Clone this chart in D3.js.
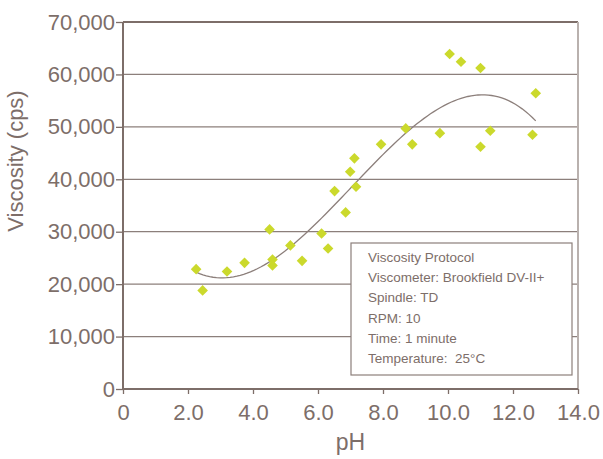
<!DOCTYPE html>
<html>
<head>
<meta charset="utf-8">
<script src="https://cdn.jsdelivr.net/npm/d3@7"></script>
<style>
  body { margin: 0; background: #fff; }
  text { font-family: "Liberation Sans", Arial, sans-serif; fill: #7d6e69; white-space: pre; }
</style>
</head>
<body id="body">
<script>
// pH readings and measured viscosity (cps)
const phValues = [2.25, 2.45, 3.2, 3.74, 4.51, 4.6, 4.6, 5.15, 5.51, 6.11, 6.31, 6.51, 6.85, 6.99, 7.12, 7.17,
  7.94, 8.7, 8.9, 9.75, 10.05, 10.4, 11.0, 11.0, 11.3, 12.6, 12.7];
const viscosity = [22860, 18800, 22420, 24060, 30440, 24700, 23570, 27390, 24450, 29670, 26810, 37750, 33680, 41430, 43990, 38570,
  46660, 49700, 46660, 48800, 63900, 62420, 61220, 46200, 49250, 48500, 56400];

const xTicks = [0, 2, 4, 6, 8, 10, 12, 14];
const yTicks = [0, 10000, 20000, 30000, 40000, 50000, 60000, 70000];

const protocolLines = [
  "Viscosity Protocol",
  "Viscometer: Brookfield DV-II+",
  "Spindle: TD",
  "RPM: 10",
  "Time: 1 minute",
  "Temperature:  25°C"
];

const width = 603, height = 459;
const margin = { top: 22, right: 25, bottom: 70, left: 123 };
const ink = "#7d6e69";

const svg = d3.select("body").append("svg")
  .attr("width", width)
  .attr("height", height);

const x = d3.scaleLinear().domain([0, 14]).range([margin.left, width - margin.right]);
const y = d3.scaleLinear().domain([0, 70000]).range([height - margin.bottom, margin.top]);

// horizontal gridlines
svg.append("g")
  .selectAll("line")
  .data(yTicks.slice(1, -1))
  .join("line")
  .attr("x1", x(0)).attr("x2", x(14))
  .attr("y1", d => y(d)).attr("y2", d => y(d))
  .attr("stroke", "#8c7f7b")
  .attr("stroke-width", 1.3);

// top and right frame
svg.append("line")
  .attr("x1", x(0)).attr("x2", x(14))
  .attr("y1", y(70000)).attr("y2", y(70000))
  .attr("stroke", "#7d6e69").attr("stroke-width", 2);
svg.append("line")
  .attr("x1", x(14)).attr("x2", x(14))
  .attr("y1", y(70000)).attr("y2", y(0))
  .attr("stroke", "#b9b1ae").attr("stroke-width", 2);

// axes
const xAxis = d3.axisBottom(x)
  .tickValues(xTicks)
  .tickSize(5)
  .tickPadding(10)
  .tickFormat(d => d === 0 ? "0" : d3.format(".1f")(d));

const yAxis = d3.axisLeft(y)
  .tickValues(yTicks)
  .tickSize(7)
  .tickPadding(1)
  .tickFormat(d3.format(","));

const gx = svg.append("g")
  .attr("transform", `translate(0,${y(0)})`)
  .call(xAxis);
const gy = svg.append("g")
  .attr("transform", `translate(${x(0)},0)`)
  .call(yAxis);

[gx, gy].forEach(g => {
  g.select(".domain").attr("stroke", ink).attr("stroke-width", 2);
  g.selectAll(".tick line").attr("stroke", ink).attr("stroke-width", 1.3);
  g.selectAll(".tick text")
    .attr("fill", ink)
    .style("font-size", "22px")
    .style("font-family", "\"Liberation Sans\", Arial, sans-serif");
});
gy.select(".domain").attr("d", `M0,${y(0)}V${y(70000)}`);
gx.select(".domain").attr("d", `M${x(0)},0H${x(14)}`);

// axis titles
svg.append("text")
  .attr("x", (x(0) + x(14)) / 2)
  .attr("y", 450)
  .attr("text-anchor", "middle")
  .style("font-size", "23px")
  .text("pH");

svg.append("text")
  .attr("transform", "translate(23,161) rotate(-90)")
  .attr("text-anchor", "middle")
  .style("font-size", "22px")
  .text("Viscosity (cps)");

// cubic polynomial trendline (least squares)
function polyFit(xs, ys, order) {
  const n = order + 1;
  const A = Array.from({ length: n }, () => new Array(n + 1).fill(0));
  xs.forEach((xi, k) => {
    for (let i = 0; i < n; i++) {
      for (let j = 0; j < n; j++) A[i][j] += Math.pow(xi, i + j);
      A[i][n] += ys[k] * Math.pow(xi, i);
    }
  });
  for (let c = 0; c < n; c++) {
    let p = c;
    for (let r = c + 1; r < n; r++) if (Math.abs(A[r][c]) > Math.abs(A[p][c])) p = r;
    [A[c], A[p]] = [A[p], A[c]];
    for (let r = 0; r < n; r++) {
      if (r === c) continue;
      const f = A[r][c] / A[c][c];
      for (let k = c; k <= n; k++) A[r][k] -= f * A[c][k];
    }
  }
  return A.map((row, i) => row[n] / row[i]);
}

const coef = polyFit(phValues, viscosity, 3);
const fit = v => coef.reduce((s, c, i) => s + c * Math.pow(v, i), 0);
const [xMin, xMax] = d3.extent(phValues);
const trend = d3.range(xMin, xMax + 0.001, (xMax - xMin) / 100).map(v => [v, fit(v)]);

svg.append("path")
  .datum(trend)
  .attr("d", d3.line().x(d => x(d[0])).y(d => y(d[1])))
  .attr("fill", "none")
  .attr("stroke", "#8c7f7b")
  .attr("stroke-width", 1.3);

// data points
svg.append("g")
  .selectAll("path")
  .data(phValues.map((v, i) => [v, viscosity[i]]))
  .join("path")
  .attr("transform", d => `translate(${x(d[0])},${y(d[1])})`)
  .attr("d", d3.symbol(d3.symbolDiamond2, 72))
  .attr("fill", "#cbd92c");

// protocol box
const box = svg.append("g").attr("transform", "translate(351,243)");
box.append("rect")
  .attr("width", 221)
  .attr("height", 132)
  .attr("fill", "#fff")
  .attr("stroke", "#8c7f7b")
  .attr("stroke-width", 1.2);
box.selectAll("text")
  .data(protocolLines)
  .join("text")
  .attr("x", 17)
  .attr("y", (d, i) => 19 + i * 20.2)
  .style("font-size", "13.5px")
  .text(d => d);
</script>
</body>
</html>
